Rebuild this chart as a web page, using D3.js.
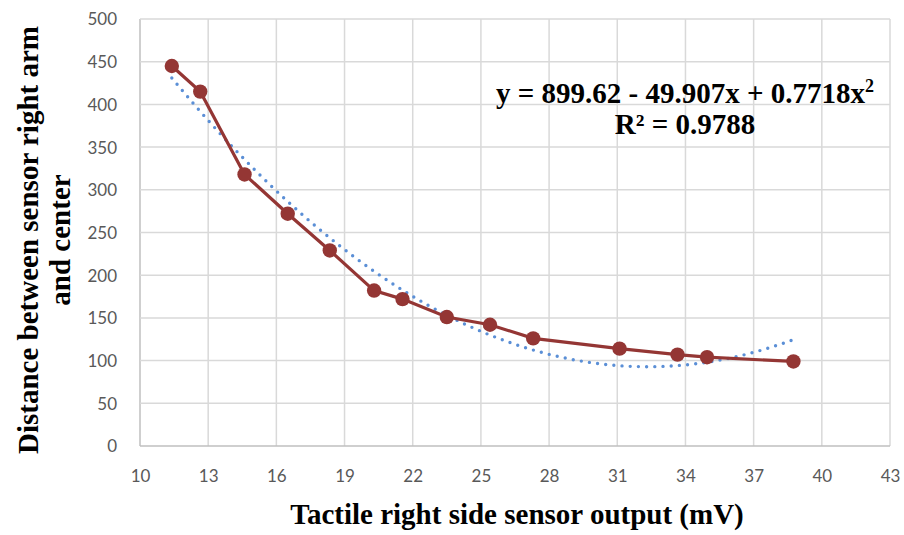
<!DOCTYPE html>
<html>
<head>
<meta charset="utf-8">
<script src="https://cdn.jsdelivr.net/npm/d3@7"></script>
<style>
  body { margin: 0; background: #fff; }
  svg { display: block; }
</style>
</head>
<body>
<div id="chart"></div>
<script>
// sensor output (mV) and distance
var xValues = [11.4, 12.65, 14.6, 16.5, 18.35, 20.3, 21.55, 23.5, 25.4, 27.3, 31.1, 33.65, 34.95, 38.75];
var yValues = [445, 415, 318, 272, 229, 182, 172, 151, 142, 126, 114, 107, 104, 99];
var xTicks = [10, 13, 16, 19, 22, 25, 28, 31, 34, 37, 40, 43];
var yTicks = [0, 50, 100, 150, 200, 250, 300, 350, 400, 450, 500];
// trendline coefficients, c0 + c1*x + c2*x^2
var trendCoef = [899.62, -49.907, 0.7718];

var w = 904, h = 535;
var margin = {left: 140, right: 14, top: 19, bottom: 89};

var svg = d3.select("#chart")
  .append("svg")
  .attr("width", w)
  .attr("height", h);

var x = d3.scaleLinear().domain([10, 43]).range([margin.left, w - margin.right]);
var y = d3.scaleLinear().domain([0, 500]).range([h - margin.bottom, margin.top]);

//Gridlines
svg.append("g")
  .selectAll("line.v")
  .data(xTicks)
  .enter()
  .append("line")
  .attr("x1", function(d){ return x(d); })
  .attr("x2", function(d){ return x(d); })
  .attr("y1", y(0))
  .attr("y2", y(500))
  .attr("stroke", function(d){ return d == 10 ? "#bfbfbf" : "#d9d9d9"; })
  .attr("stroke-width", 1.5);

svg.append("g")
  .selectAll("line.h")
  .data(yTicks)
  .enter()
  .append("line")
  .attr("x1", x(10))
  .attr("x2", x(43))
  .attr("y1", function(d){ return y(d); })
  .attr("y2", function(d){ return y(d); })
  .attr("stroke", function(d){ return d == 0 ? "#bfbfbf" : "#d9d9d9"; })
  .attr("stroke-width", 1.5);

//Axes (labels only)
var xAxis = svg.append("g")
  .attr("transform", "translate(0," + y(0) + ")")
  .call(d3.axisBottom(x).tickValues(xTicks).tickSize(0).tickPadding(24));
var yAxis = svg.append("g")
  .attr("transform", "translate(" + (x(10) - 23) + ",0)")
  .call(d3.axisLeft(y).tickValues(yTicks).tickSize(0).tickPadding(0));

[xAxis, yAxis].forEach(function(g){
  g.select(".domain").remove();
  g.selectAll("text")
    .style("font-family", "Lato, 'Open Sans', sans-serif")
    .style("font-size", "17px")
    .attr("fill", "#595959");
});
yAxis.selectAll("text").attr("dy", "0.35em");

//Trendline
var trendX = d3.range(xValues[0], xValues[xValues.length - 1] + 0.001, 0.1);
var poly = function(v){ return trendCoef[0] + trendCoef[1] * v + trendCoef[2] * v * v; };
svg.append("path")
  .datum(trendX)
  .attr("d", d3.line()
    .x(function(d){ return x(d); })
    .y(function(d){ return y(poly(d)); }))
  .attr("fill", "none")
  .attr("stroke", "#5b8fd6")
  .attr("stroke-width", 3.4)
  .attr("stroke-linecap", "round")
  .attr("stroke-dasharray", "0,8.2");

//Data line
var pts = xValues.map(function(d, i){ return [d, yValues[i]]; });
svg.append("path")
  .datum(pts)
  .attr("d", d3.line()
    .x(function(d){ return x(d[0]); })
    .y(function(d){ return y(d[1]); }))
  .attr("fill", "none")
  .attr("stroke", "#943634")
  .attr("stroke-width", 3.2);

svg.selectAll("circle")
  .data(pts)
  .enter()
  .append("circle")
  .attr("cx", function(d){ return x(d[0]); })
  .attr("cy", function(d){ return y(d[1]); })
  .attr("r", 7.2)
  .attr("fill", "#943634");

//Equation
var serif = "'Liberation Serif', 'Times New Roman', serif";
var eq = svg.append("text")
  .attr("x", 685)
  .attr("y", 103)
  .attr("text-anchor", "middle")
  .style("font-family", serif)
  .style("font-weight", "bold")
  .style("font-size", "29px");
eq.append("tspan").text("y = 899.62 - 49.907x + 0.7718x");
eq.append("tspan").attr("dy", -11).style("font-size", "18px").text("2");

svg.append("text")
  .attr("x", 685)
  .attr("y", 134)
  .attr("text-anchor", "middle")
  .style("font-family", serif)
  .style("font-weight", "bold")
  .style("font-size", "29px")
  .text("R² = 0.9788");

//Axis titles
svg.append("text")
  .attr("x", 517)
  .attr("y", 524)
  .attr("text-anchor", "middle")
  .style("font-family", serif)
  .style("font-weight", "bold")
  .style("font-size", "29px")
  .text("Tactile right side sensor output (mV)");

var yt = svg.append("text")
  .attr("transform", "translate(38,240) rotate(-90)")
  .attr("text-anchor", "middle")
  .style("font-family", serif)
  .style("font-weight", "bold")
  .style("font-size", "29px");
yt.append("tspan").attr("x", 0).attr("y", 0).text("Distance between sensor right arm");
yt.append("tspan").attr("x", 0).attr("y", 32).text("and center");
</script>
</body>
</html>
